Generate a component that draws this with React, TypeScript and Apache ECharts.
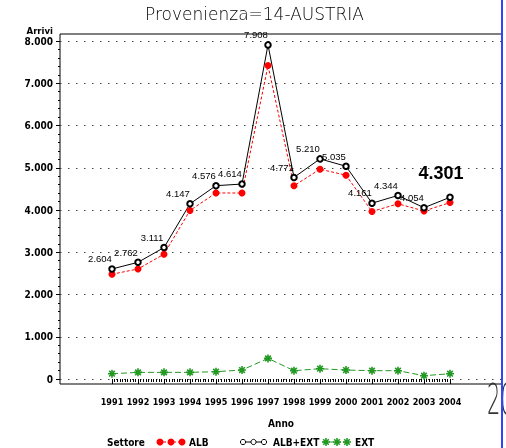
import React, { useEffect, useRef } from "react";
import * as echarts from "echarts";

const years = [1991, 1992, 1993, 1994, 1995, 1996, 1997, 1998, 1999, 2000, 2001, 2002, 2003, 2004];
const albExt = [2604, 2762, 3111, 4147, 4576, 4614, 7908, 4771, 5210, 5035, 4161, 4344, 4054, 4301];
const alb = [2479, 2605, 2954, 3990, 4403, 4402, 7420, 4574, 4966, 4823, 3964, 4147, 3976, 4176];
const ext = [125, 157, 157, 157, 173, 212, 488, 197, 244, 212, 197, 197, 78, 125];
const seriesNames = ["ALB", "ALB+EXT", "EXT"];
const titleText = "Provenienza=14-AUSTRIA";

const COND = "'DejaVu Sans Condensed', 'Liberation Sans', sans-serif";
const ARIAL = "'Liberation Sans', Arial, sans-serif";
const RED = "#ff0000";
const GREEN = "#229922";

const STAR =
  "M-1,-5 L1,-5 L1,5 L-1,5 Z M-5,-1 L5,-1 L5,1 L-5,1 Z M-4.2,-2.8 L-2.8,-4.2 L4.2,2.8 L2.8,4.2 Z M2.8,-4.2 L4.2,-2.8 L-2.8,4.2 L-4.2,2.8 Z";

echarts.graphic.registerShape("asterisk", echarts.graphic.extendPath(STAR, {}) as any);

const fmt = (v: number) => String(Math.round(v)).replace(/\B(?=(\d{3})+(?!\d))/g, ".");

export default function App() {
  const ref = useRef<HTMLDivElement>(null);
  useEffect(() => {
    if (!ref.current) return;
    const chart = echarts.init(ref.current, undefined, { renderer: "svg" });
    const pair = (arr: number[]) => arr.map((v, i) => [years[i], v]);
    const lastIdx = years.length - 1;
    const albExtData = albExt.map((v, i) =>
      i === lastIdx
        ? {
            value: [years[i], v],
            label: { fontSize: 18, fontWeight: "bold", fontFamily: ARIAL, offset: [-9, -10] },
          }
        : { value: [years[i], v] }
    );
    const legendY = 442;
    const legendText = (x: number, text: string) => ({
      type: "text",
      x,
      y: legendY,
      style: { text, fill: "#000", font: `bold 10px ${COND}`, verticalAlign: "middle", align: "left" },
    });
    chart.setOption({
      animation: false,
      title: {
        text: titleText,
        left: 140,
        top: 0,
        textStyle: { fontFamily: "'DejaVu Sans'", fontWeight: 200, fontSize: 17, color: "#000" },
      },
      grid: [
        { left: 60, right: 4, top: 34, bottom: 64, show: true, borderColor: "#000", borderWidth: 1, backgroundColor: "transparent" },
        { left: 60, right: 4, top: 41, bottom: 69 },
        { left: 112, right: 56, top: 41, bottom: 69 },
      ],
      xAxis: [
        { gridIndex: 0, type: "value", min: 0, max: 1, show: false },
        { gridIndex: 1, type: "value", min: 0, max: 1, show: false },
        {
          gridIndex: 2,
          type: "value",
          min: 1991,
          max: 2004,
          interval: 1,
          offset: 5,
          axisLine: { show: false },
          axisTick: { show: true, length: 5, lineStyle: { color: "#000" } },
          minorTick: { show: true, splitNumber: 10, length: 3, lineStyle: { color: "#000" } },
          splitLine: { show: false },
          axisLabel: {
            margin: 13,
            showMinLabel: true,
            showMaxLabel: true,
            hideOverlap: false,
            formatter: (v: number) => String(v),
            color: "#000",
            fontWeight: "bold",
            fontSize: 9,
            fontFamily: COND,
          },
          name: "Anno",
          nameLocation: "middle",
          nameGap: 34,
          nameTextStyle: { color: "#000", fontWeight: "bold", fontSize: 10, fontFamily: COND },
        },
      ],
      yAxis: [
        { gridIndex: 0, type: "value", min: 0, max: 1, show: false },
        {
          gridIndex: 1,
          type: "value",
          min: 0,
          max: 8000,
          interval: 1000,
          axisLine: { show: false },
          axisTick: { show: true, length: 4, lineStyle: { color: "#000" } },
          minorTick: { show: true, splitNumber: 5, length: 2, lineStyle: { color: "#000" } },
          splitLine: { show: true, lineStyle: { color: "#444", type: [1.5, 6.5], width: 1 } },
          axisLabel: {
            margin: 7,
            formatter: (v: number) => fmt(v),
            color: "#000",
            fontWeight: "bold",
            fontSize: 10,
            fontFamily: COND,
          },
          name: "Arrivi",
          nameLocation: "end",
          nameGap: 6,
          nameTextStyle: { color: "#000", fontWeight: "bold", fontSize: 9.5, fontFamily: COND, align: "right", padding: [0, 7, 0, 0] },
        },
        { gridIndex: 2, type: "value", min: 0, max: 8000, show: false },
      ],
      series: [
        {
          name: seriesNames[0],
          type: "line",
          xAxisIndex: 2,
          yAxisIndex: 2,
          clip: false,
          data: pair(alb),
          symbol: "circle",
          symbolSize: 7,
          itemStyle: { color: RED },
          lineStyle: { color: RED, width: 1, type: [3, 2] },
        },
        {
          name: seriesNames[1],
          type: "line",
          xAxisIndex: 2,
          yAxisIndex: 2,
          clip: false,
          data: albExtData,
          symbol: "emptyCircle",
          symbolSize: 5.5,
          itemStyle: { color: "#000", borderWidth: 1 },
          lineStyle: { color: "#000", width: 1 },
          label: {
            show: true,
            position: "top",
            distance: 1.5,
            offset: [-12, 0],
            formatter: (p: any) => fmt(p.value[1]),
            color: "#000",
            fontSize: 9.5,
            fontFamily: ARIAL,
          },
        },
        {
          name: seriesNames[2],
          type: "line",
          xAxisIndex: 2,
          yAxisIndex: 2,
          clip: false,
          data: pair(ext),
          symbol: "path://" + STAR,
          symbolSize: 8,
          itemStyle: { color: GREEN },
          lineStyle: { color: GREEN, width: 1, type: [6, 3] },
        },
      ],
      graphic: [
        legendText(107, "Settore"),
        { type: "line", shape: { x1: 158, y1: legendY, x2: 184, y2: legendY }, style: { stroke: RED, lineWidth: 1, lineDash: [3, 2] } },
        { type: "circle", shape: { cx: 160, cy: legendY, r: 3.5 }, style: { fill: RED } },
        { type: "circle", shape: { cx: 171, cy: legendY, r: 3.5 }, style: { fill: RED } },
        { type: "circle", shape: { cx: 182, cy: legendY, r: 3.5 }, style: { fill: RED } },
        legendText(189, seriesNames[0]),
        { type: "line", shape: { x1: 240, y1: legendY, x2: 267, y2: legendY }, style: { stroke: "#000", lineWidth: 1 } },
        { type: "circle", shape: { cx: 243, cy: legendY, r: 2.6 }, style: { fill: "#fff", stroke: "#000", lineWidth: 1 } },
        { type: "circle", shape: { cx: 253.5, cy: legendY, r: 2.6 }, style: { fill: "#fff", stroke: "#000", lineWidth: 1 } },
        { type: "circle", shape: { cx: 264, cy: legendY, r: 2.6 }, style: { fill: "#fff", stroke: "#000", lineWidth: 1 } },
        legendText(273, seriesNames[1]),
        { type: "line", shape: { x1: 322, y1: legendY, x2: 350, y2: legendY }, style: { stroke: GREEN, lineWidth: 1, lineDash: [5, 2] } },
        { type: "asterisk", x: 326, y: legendY, scaleX: 0.8, scaleY: 0.8, style: { fill: GREEN } },
        { type: "asterisk", x: 337, y: legendY, scaleX: 0.8, scaleY: 0.8, style: { fill: GREEN } },
        { type: "asterisk", x: 347, y: legendY, scaleX: 0.8, scaleY: 0.8, style: { fill: GREEN } },
        legendText(355, seriesNames[2]),
        {
          type: "text",
          x: 487,
          y: 378,
          scaleX: 0.5,
          style: { text: "20", fill: "#333", font: "200 42px 'DejaVu Sans'", verticalAlign: "top" },
        },
        { type: "rect", shape: { x: 501, y: 0, width: 2, height: 448 }, style: { fill: "#3344ff" } },
      ],
    });
    return () => chart.dispose();
  }, []);
  return <div ref={ref} style={{ position: "fixed", left: 0, top: 0, width: 506, height: 448 }} />;
}
